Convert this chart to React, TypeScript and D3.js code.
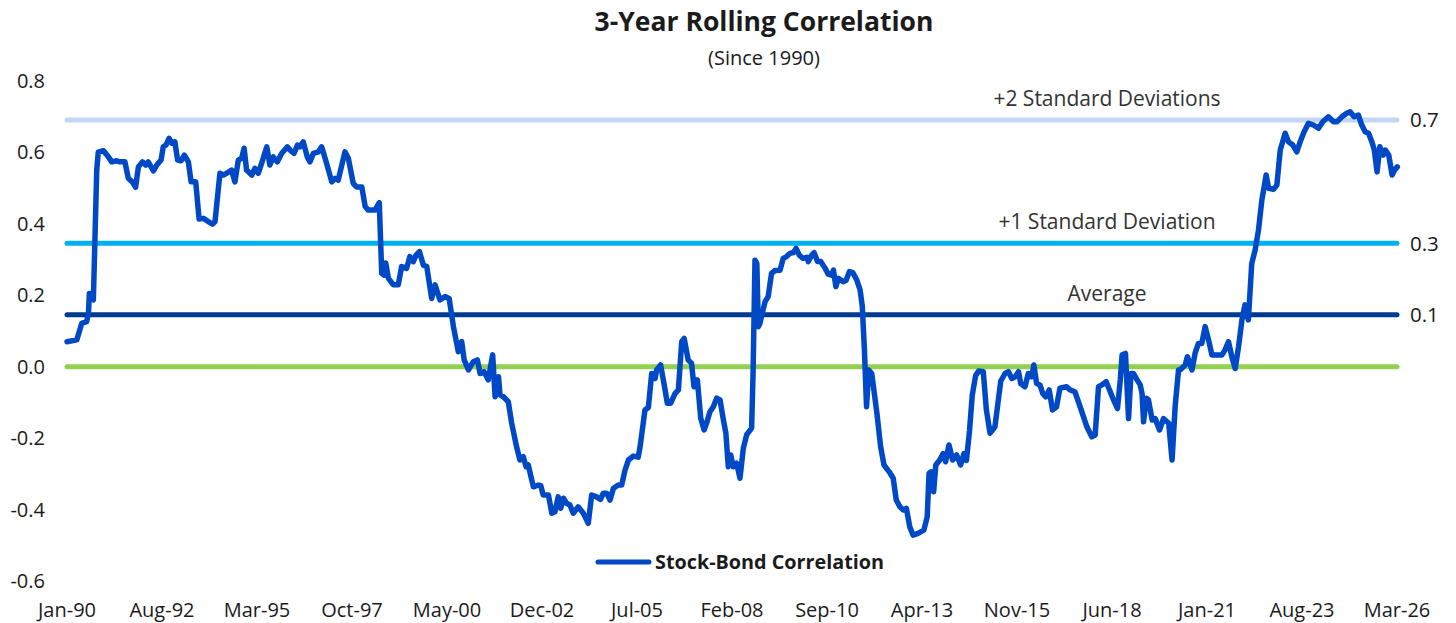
import * as d3 from "d3";

// months since Jan-1990 (fractional, series is sampled finer than monthly), correlation
const STOCK_BOND: [number, number][] = [
  [0, 0.07], [3.2, 0.075], [4.8, 0.121], [6.4, 0.126], [7.0, 0.149], [7.3, 0.205],
  [8.6, 0.187], [9.7, 0.55], [10.2, 0.6], [11.9, 0.604], [13.5, 0.587], [14.6, 0.573],
  [16.2, 0.576], [17.3, 0.573], [18.9, 0.573], [20.0, 0.527], [21.3, 0.517], [22.4, 0.502],
  [23.3, 0.559], [24.6, 0.573], [25.7, 0.564], [26.5, 0.573], [28.2, 0.548], [29.3, 0.564],
  [30.7, 0.578], [31.4, 0.615], [32.3, 0.62], [33.3, 0.639], [34.2, 0.625], [35.2, 0.629],
  [36.1, 0.578], [37.2, 0.576], [38.3, 0.592], [39.6, 0.573], [40.5, 0.517], [42.0, 0.517],
  [43.1, 0.413], [44.5, 0.415], [46.1, 0.406], [47.5, 0.399], [48.3, 0.406], [49.9, 0.541],
  [51.0, 0.536], [52.1, 0.541], [53.7, 0.55], [54.8, 0.517], [55.9, 0.578], [57.0, 0.583],
  [57.8, 0.611], [58.6, 0.55], [60.3, 0.536], [61.3, 0.555], [62.4, 0.541], [63.5, 0.569],
  [65.2, 0.615], [66.2, 0.564], [67.3, 0.587], [68.6, 0.573], [70.1, 0.597], [71.9, 0.615],
  [72.8, 0.606], [74.1, 0.597], [75.2, 0.62], [76.0, 0.615], [77.1, 0.629], [78.4, 0.587],
  [79.3, 0.573], [80.4, 0.597], [82.0, 0.601], [83.1, 0.615], [84.7, 0.569], [86.4, 0.517],
  [87.5, 0.527], [88.5, 0.522], [90.7, 0.601], [91.8, 0.583], [93.4, 0.513], [94.5, 0.503],
  [96.2, 0.503], [97.3, 0.448], [98.3, 0.438], [100.5, 0.438], [101.9, 0.459], [102.7, 0.261],
  [103.5, 0.256], [104.0, 0.29], [104.9, 0.247], [106.5, 0.229], [108.1, 0.229], [109.2, 0.28],
  [110.8, 0.275], [111.9, 0.308], [113.0, 0.294], [113.9, 0.312], [115.0, 0.322], [116.3, 0.284],
  [117.4, 0.28], [119.0, 0.191], [120.1, 0.229], [121.7, 0.187], [123.4, 0.196], [124.7, 0.191],
  [126.1, 0.112], [127.7, 0.042], [128.8, 0.07], [129.6, 0.019], [131.0, -0.009], [132.6, 0.014],
  [133.9, 0.019], [134.8, -0.019], [136.1, -0.014], [137.5, -0.037], [138.3, 0.005], [138.9, 0.033],
  [139.7, -0.084], [140.8, -0.028], [141.3, -0.079], [142.4, -0.084], [144.0, -0.098], [145.1, -0.158],
  [146.7, -0.224], [147.8, -0.261], [148.9, -0.252], [149.8, -0.28], [150.5, -0.275], [152.2, -0.336],
  [153.8, -0.331], [154.6, -0.333], [155.4, -0.359], [157.1, -0.359], [158.2, -0.41], [159.2, -0.406],
  [160.3, -0.364], [161.1, -0.396], [162.0, -0.368], [163.0, -0.382], [164.1, -0.387], [165.2, -0.41],
  [166.8, -0.392], [168.5, -0.41], [170.1, -0.438], [171.2, -0.359], [172.8, -0.364], [174.1, -0.371],
  [175.0, -0.354], [176.1, -0.354], [177.2, -0.373], [178.3, -0.34], [179.9, -0.331], [181.0, -0.331],
  [182.1, -0.289], [183.2, -0.261], [184.8, -0.25], [186.4, -0.253], [187.0, -0.224], [188.6, -0.121],
  [189.7, -0.114], [190.8, -0.019], [191.9, -0.033], [192.4, -0.009], [193.7, 0.005], [194.8, -0.047],
  [195.9, -0.102], [197.0, -0.102], [198.4, -0.075], [199.5, -0.065], [200.6, 0.07], [201.4, 0.079],
  [202.7, 0.019], [203.8, 0.009], [204.6, -0.056], [205.7, -0.037], [206.8, -0.144], [207.9, -0.177],
  [208.7, -0.158], [209.8, -0.126], [210.9, -0.112], [212.0, -0.088], [213.1, -0.093], [214.2, -0.149],
  [215.0, -0.186], [215.8, -0.28], [216.6, -0.247], [217.4, -0.28], [218.5, -0.27], [219.6, -0.312],
  [220.7, -0.228], [221.8, -0.19], [223.4, -0.172], [223.9, -0.009], [224.5, 0.298], [225.1, 0.289],
  [225.6, 0.112], [226.1, 0.121], [227.0, 0.154], [227.8, 0.182], [228.8, 0.196], [229.9, 0.261],
  [231.0, 0.269], [232.7, 0.27], [233.7, 0.303], [234.8, 0.308], [235.9, 0.317], [237.0, 0.319],
  [237.9, 0.331], [239.0, 0.312], [240.1, 0.303], [241.4, 0.306], [241.9, 0.294], [243.0, 0.312],
  [243.8, 0.319], [244.9, 0.294], [246.0, 0.294], [247.4, 0.275], [248.4, 0.259], [249.5, 0.256],
  [250.1, 0.27], [250.9, 0.224], [251.7, 0.247], [253.3, 0.238], [254.2, 0.241], [255.3, 0.266],
  [256.4, 0.263], [257.7, 0.243], [258.8, 0.215], [259.5, 0.17], [260.2, 0.05], [260.9, -0.112],
  [261.6, -0.009], [262.6, -0.019], [264.3, -0.131], [265.5, -0.224], [266.6, -0.275], [268.3, -0.294],
  [269.6, -0.312], [270.6, -0.373], [271.8, -0.392], [272.9, -0.401], [273.9, -0.396], [275.0, -0.448],
  [276.1, -0.471], [277.7, -0.466], [279.6, -0.457], [280.7, -0.42], [281.3, -0.298], [282.0, -0.294],
  [282.8, -0.35], [283.5, -0.275], [284.8, -0.261], [285.9, -0.243], [286.7, -0.266], [287.8, -0.219],
  [289.0, -0.261], [290.3, -0.247], [291.6, -0.275], [292.7, -0.243], [293.5, -0.262], [294.5, -0.18],
  [295.4, -0.08], [296.5, -0.025], [297.5, -0.012], [299.0, -0.014], [300.0, -0.12], [301.2, -0.186],
  [302.8, -0.168], [304.7, -0.04], [306.1, -0.019], [307.2, -0.014], [308.3, -0.033], [309.4, -0.028],
  [310.5, -0.014], [311.2, -0.047], [312.6, -0.056], [313.7, -0.019], [314.8, -0.028], [315.5, 0.005],
  [316.4, -0.047], [317.5, -0.051], [318.4, -0.075], [319.4, -0.084], [320.5, -0.065], [321.6, -0.121],
  [322.9, -0.112], [324.0, -0.06], [326.2, -0.056], [327.3, -0.065], [328.9, -0.07], [330.6, -0.112],
  [332.8, -0.168], [334.4, -0.196], [335.5, -0.191], [336.6, -0.056], [337.7, -0.051], [339.1, -0.042],
  [340.2, -0.065], [341.5, -0.093], [342.8, -0.117], [343.7, -0.037], [344.3, 0.033], [345.4, 0.037],
  [346.4, -0.145], [347.2, -0.019], [348.0, -0.019], [349.2, -0.037], [350.2, -0.051], [350.8, -0.075],
  [351.3, -0.154], [352.2, -0.088], [352.9, -0.093], [354.1, -0.149], [355.1, -0.145], [356.5, -0.177],
  [357.8, -0.145], [359.5, -0.158], [360.6, -0.261], [361.6, -0.112], [362.7, -0.009], [363.2, -0.009],
  [364.9, 0.005], [365.6, 0.028], [367.1, -0.009], [368.1, 0.037], [369.2, 0.065], [370.3, 0.065],
  [371.4, 0.112], [372.5, 0.075], [373.6, 0.033], [375.2, 0.033], [376.9, 0.033], [377.9, 0.047],
  [379.0, 0.07], [380.1, 0.028], [381.2, -0.005], [382.3, 0.056], [383.4, 0.131], [384.4, 0.173],
  [385.5, 0.131], [386.6, 0.289], [387.7, 0.326], [388.8, 0.382], [389.9, 0.466], [391.3, 0.536],
  [392.1, 0.499], [393.7, 0.496], [394.8, 0.508], [395.9, 0.606], [397.5, 0.653], [398.6, 0.629],
  [400.0, 0.62], [401.3, 0.601], [402.4, 0.629], [403.7, 0.657], [405.1, 0.681], [406.7, 0.676],
  [408.4, 0.667], [409.8, 0.685], [411.6, 0.699], [413.3, 0.685], [414.4, 0.685], [416.0, 0.699],
  [417.6, 0.709], [418.7, 0.713], [420.0, 0.699], [421.4, 0.704], [422.5, 0.676], [423.6, 0.657],
  [424.7, 0.653], [425.8, 0.629], [426.6, 0.606], [427.5, 0.545], [428.4, 0.615], [429.5, 0.592],
  [430.2, 0.606], [431.3, 0.592], [432.4, 0.536], [433.2, 0.55], [434.1, 0.559],
];

const Y_TICKS = [0.8, 0.6, 0.4, 0.2, 0.0, -0.2, -0.4, -0.6];
const X_TICK_MONTHS = d3.range(0, 435, 31); // Jan-90, Aug-92, ... Mar-26
const LAST_MONTH = 434;

const BAND_VALUES = [0.69, 0.345, 0.145, 0];
const BAND_LABELS = ["+2 Standard Deviations", "+1 Standard Deviation", "Average", ""];
const BAND_RIGHT_LABELS = ["0.7", "0.3", "0.1", ""];
const BAND_COLORS = ["#c3d6f6", "#00b0f0", "#003a8f", "#92d050"];

const LINE_COLOR = "#0049c6";
const TEXT_COLOR = "#1b1b1b";
const FONT = "'Open Sans', 'Noto Sans', sans-serif";

export default function App() {
  const width = 1456;
  const height = 623;

  const x = d3.scaleLinear().domain([0, LAST_MONTH]).range([67, 1397]);
  const y = d3.scaleLinear().domain([-0.6, 0.8]).range([581.2, 80.7]);

  const line = d3
    .line<[number, number]>()
    .x((d) => x(d[0]))
    .y((d) => y(d[1]));

  const fmt = d3.timeFormat("%b-%y");
  const labelX = 1107;

  return (
    <svg
      width={width}
      height={height}
      style={{ position: "absolute", left: 0, top: 0, display: "block", background: "#fff" }}
      fontFamily={FONT}
    >
      <text x={764} y={31} textAnchor="middle" fontSize={26.5} fontWeight={700} fill={TEXT_COLOR}>
        3-Year Rolling Correlation
      </text>
      <text x={764} y={65} textAnchor="middle" fontSize={20} fill={TEXT_COLOR}>
        (Since 1990)
      </text>

      {Y_TICKS.map((t) => (
        <text key={t} x={45} y={y(t)} dy="0.35em" textAnchor="end" fontSize={20} fill={TEXT_COLOR}>
          {t.toFixed(1)}
        </text>
      ))}

      {X_TICK_MONTHS.map((m) => (
        <text key={m} x={x(m)} y={617} textAnchor="middle" fontSize={20} fill={TEXT_COLOR}>
          {fmt(new Date(1990, m, 1))}
        </text>
      ))}

      {BAND_VALUES.map((v, i) => (
        <g key={i}>
          <line
            x1={x(0)}
            x2={x(LAST_MONTH)}
            y1={y(v)}
            y2={y(v)}
            stroke={BAND_COLORS[i]}
            strokeWidth={5}
            strokeLinecap="round"
          />
          {BAND_LABELS[i] && (
            <text x={labelX} y={y(v) - 14} textAnchor="middle" fontSize={21} fill="#333">
              {BAND_LABELS[i]}
            </text>
          )}
          {BAND_RIGHT_LABELS[i] && (
            <text x={1410} y={y(v)} dy="0.35em" fontSize={20.5} fill={TEXT_COLOR}>
              {BAND_RIGHT_LABELS[i]}
            </text>
          )}
        </g>
      ))}

      <path
        d={line(STOCK_BOND) ?? ""}
        fill="none"
        stroke={LINE_COLOR}
        strokeWidth={5.5}
        strokeLinejoin="round"
        strokeLinecap="round"
      />

      <line x1={598} x2={649} y1={562} y2={562} stroke={LINE_COLOR} strokeWidth={5} strokeLinecap="round" />
      <text x={655} y={569} fontSize={19.8} fontWeight={700} fill={TEXT_COLOR}>
        Stock-Bond Correlation
      </text>
    </svg>
  );
}
